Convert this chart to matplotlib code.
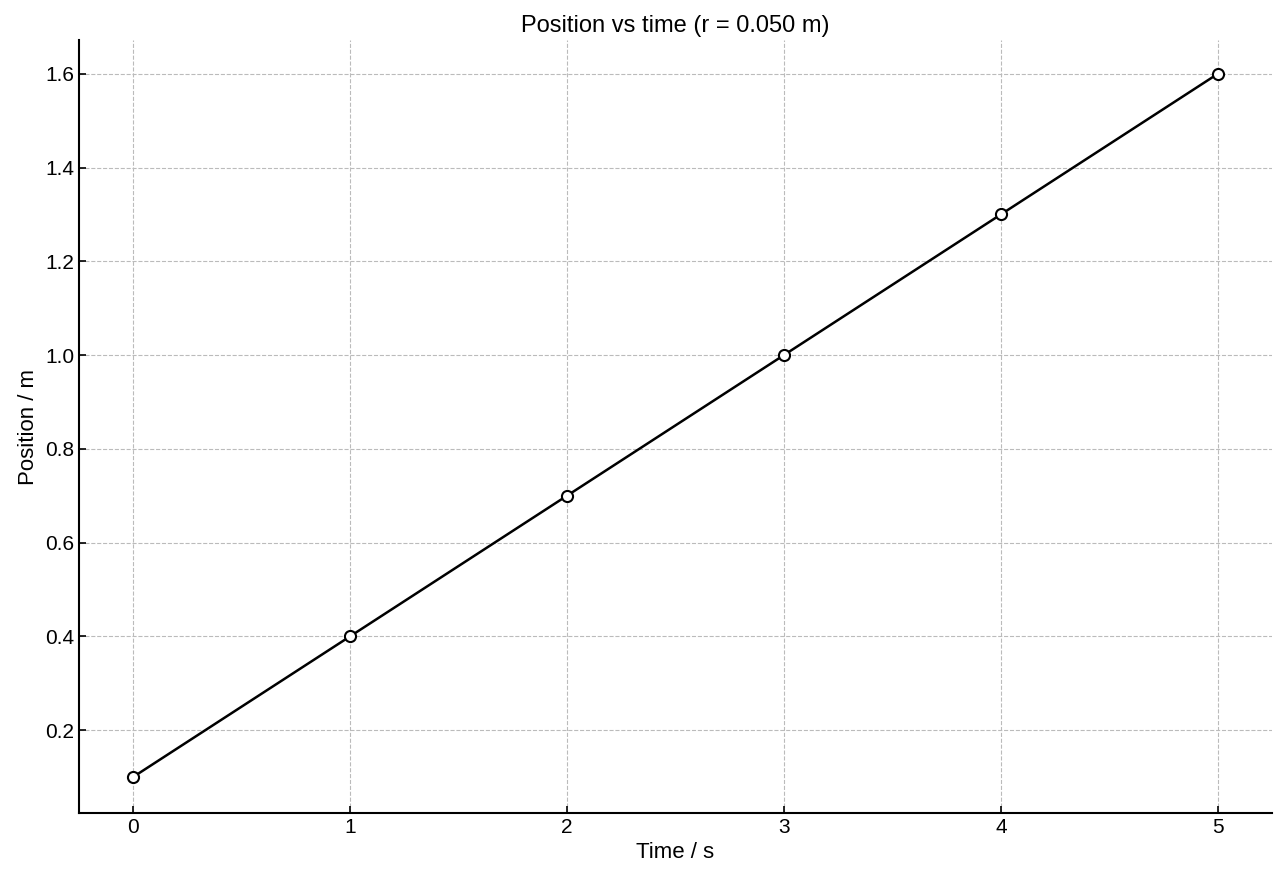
import matplotlib
matplotlib.use("Agg")
import matplotlib.pyplot as plt

time_s = [0, 1, 2, 3, 4, 5]
position_m = [0.1, 0.4, 0.7, 1.0, 1.3, 1.6]

plt.rcParams['font.family'] = ['Liberation Sans', 'DejaVu Sans']
fig = plt.figure(figsize=(12.8, 8.8), dpi=100)
ax = fig.add_axes([0.0617, 0.0761, 0.9321, 0.8784])
ax.plot(time_s, position_m, color='black', lw=1.8, marker='o', ms=8,
        mfc='white', mec='black', mew=1.5, zorder=3)
ax.set_xlim(-0.25, 5.25)
ax.set_ylim(0.023, 1.672)
ax.set_xticks(time_s)
ax.set_yticks([0.2, 0.4, 0.6, 0.8, 1.0, 1.2, 1.4, 1.6])
ax.grid(True, ls='--', color='#bbbbbb', lw=0.8)
ax.spines['top'].set_visible(False)
ax.spines['right'].set_visible(False)
ax.spines['left'].set_linewidth(1.5)
ax.spines['bottom'].set_linewidth(1.5)
ax.tick_params(direction='in', labelsize=15, width=1.2, length=5)
ax.set_xlabel('Time / s', fontsize=16)
ax.set_ylabel('Position / m', fontsize=16)
ax.set_title('Position vs time (r = 0.050 m)', fontsize=17)
fig.savefig('out.png')
